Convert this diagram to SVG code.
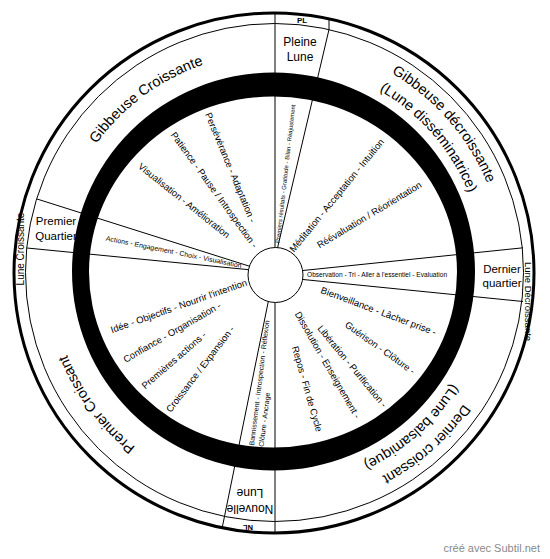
<svg xmlns="http://www.w3.org/2000/svg" width="550" height="559" viewBox="0 0 550 559">
<style>
text{font-family:"Liberation Sans",Arial,Helvetica,sans-serif;fill:#000}
.big{font-size:14.5px}
.lbl{font-size:12px;text-anchor:middle}
.rad{font-size:9.5px}
.sm{font-size:7px}
.tiny{font-size:6px}
.ln{stroke:#000;stroke-width:1;fill:none}
.end{text-anchor:end}
.mid{text-anchor:middle}
</style>
<defs>
<path id="c210" d="M64,272 A210,210 0 1 1 484,272 A210,210 0 1 1 64,272"/>
<path id="c219" d="M55,272 A219,219 0 1 1 493,272 A219,219 0 1 1 55,272"/>
<path id="c223" d="M51,272 A223,223 0 1 1 497,272 A223,223 0 1 1 51,272"/>
<path id="c231" d="M43,272 A231,231 0 1 1 505,272 A231,231 0 1 1 43,272"/>
</defs>
<rect width="550" height="559" fill="#fff"/>

<g id="outer-rings">
<circle cx="274" cy="273" r="260" fill="none" stroke="#000" stroke-width="3"/>
<circle cx="274.5" cy="272.5" r="249" class="ln"/>
</g>

<g id="connectors">
<line class="ln" x1="275" y1="13" x2="275" y2="250"/>
<polyline class="ln" points="277.5,248 329,29.5 329,18.5"/>
<line class="ln" x1="298" y1="271" x2="523" y2="247.8"/>
<line class="ln" x1="298" y1="279" x2="523" y2="301.5"/>
<line class="ln" x1="37" y1="199" x2="252" y2="267"/>
<line class="ln" x1="27" y1="248" x2="252" y2="270"/>
<line class="ln" x1="269" y1="298" x2="222.2" y2="527.7"/>
<line class="ln" x1="275" y1="300" x2="275" y2="533"/>
</g>

<g id="black-ring">
<path fill="#000" fill-rule="evenodd" d="M72,271.5 A201.5,199 0 1 1 475,271.5 A201.5,199 0 1 1 72,271.5 Z M89,272 A184,175.5 0 1 0 457,272 A184,175.5 0 1 0 89,272 Z"/>
</g>

<g id="center">
<circle cx="275.5" cy="275" r="27.5" fill="#fff" stroke="#000" stroke-width="1"/>
</g>

<g id="gibbeuse-croissante">
<text class="big mid"><textPath href="#c219" startOffset="14.86%">Gibbeuse Croissante</textPath></text>
<text class="rad" transform="translate(208,113) rotate(67.5)" dy=".35em">Persévérance - Adaptation -</text>
<text class="rad" transform="translate(173,133) rotate(54)" dy=".35em">Patience - Pause / Introspection -</text>
<text class="rad" transform="translate(139.5,165) rotate(38.5)" dy=".35em">Visualisation - Amélioration</text>
</g>

<g id="pleine-lune">
<text class="lbl" x="300" y="46">Pleine</text>
<text class="lbl" x="300" y="61">Lune</text>
<text x="302" y="23" style="font-size:8px;font-weight:bold;text-anchor:middle">PL</text>
<text class="tiny" transform="translate(277.5,243) rotate(-83.5)" dy=".35em">Premiers résultats - Gratitude - Bilan - Réajustement</text>
</g>

<g id="gibbeuse-decroissante">
<text class="big mid"><textPath href="#c231" startOffset="38.61%">Gibbeuse décroissante</textPath><textPath href="#c210" startOffset="38.61%">(Lune disséminatrice)</textPath></text>
<text class="rad end" transform="translate(382,140) rotate(-50.7)" dy=".35em">Méditation - Acceptation - Intuition</text>
<text class="rad end" transform="translate(420.5,184) rotate(-31)" dy=".35em">Réévaluation / Réorientation</text>
</g>

<g id="dernier-quartier">
<text class="lbl" x="502" y="273" style="font-size:11.5px">Dernier</text>
<text class="lbl" x="502" y="287" style="font-size:11.5px">quartier</text>
<text transform="translate(524.5,301.5) rotate(90)" style="font-size:9.5px;text-anchor:middle">Lune Décroissante</text>
<text x="307" y="274.5" dy=".35em" style="font-size:6.6px">Observation - Tri - Aller à l'essentiel - Evaluation</text>
</g>

<g id="dernier-croissant">
<text class="big mid"><textPath href="#c231" startOffset="63.47%">Dernier croissant</textPath><textPath href="#c210" startOffset="63.47%">(Lune balsamique)</textPath></text>
<text class="rad end" transform="translate(436,332.5) rotate(20.5)" dy=".35em">Bienveillance - Lâcher prise -</text>
<text class="rad end" transform="translate(414,372) rotate(35.5)" dy=".35em">Guérison - Clôture -</text>
<text class="rad end" transform="translate(385,406) rotate(50.5)" dy=".35em">Libération - Purification -</text>
<text class="rad end" transform="translate(358,417.5) rotate(60)" dy=".35em">Dissolution - Enseignement -</text>
<text class="rad end" transform="translate(319.5,431.5) rotate(74)" dy=".35em">Repos - Fin de Cycle</text>
</g>

<g id="nouvelle-lune">
<g transform="translate(250,501) rotate(180)">
<text class="lbl" x="0" y="-4">Nouvelle</text>
<text class="lbl" x="0" y="12">Lune</text>
</g>
<text transform="translate(248,524.5) rotate(180)" style="font-size:7.5px;font-weight:bold;text-anchor:middle">NL</text>
<text class="sm" transform="translate(256,446) rotate(-83)"><tspan x="0" y="-2">Bannissement - Introspection - Réflexion</tspan><tspan x="0" y="7.5">Clôture - Ancrage</tspan></text>
</g>

<g id="premier-croissant">
<text class="big mid"><textPath href="#c223" startOffset="89.8%">Premier Croissant</textPath></text>
<text class="rad" transform="translate(111,330) rotate(-19.5)" dy=".35em">Idée - Objectifs - Nourrir l'intention</text>
<text class="rad" transform="translate(124,360) rotate(-30)" dy=".35em">Confiance - Organisation -</text>
<text class="rad" transform="translate(143,387) rotate(-41)" dy=".35em">Premières actions -</text>
<text class="rad" transform="translate(168,411) rotate(-52.5)" dy=".35em">Croissance / Expansion -</text>
</g>

<g id="premier-quartier">
<text class="lbl" x="56" y="225" style="font-size:11.5px">Premier</text>
<text class="lbl" x="56" y="240" style="font-size:11.5px">Quartier</text>
<text transform="translate(24,249) rotate(-90)" style="font-size:10px;text-anchor:middle">Lune Croissante</text>
<text class="sm" transform="translate(106,238) rotate(11.5)" dy=".35em">Actions - Engagement - Choix - Visualisation</text>
</g>

<text x="540" y="552" style="font-size:11px;fill:#8a8a8a;text-anchor:end">créé avec Subtil.net</text>
</svg>
